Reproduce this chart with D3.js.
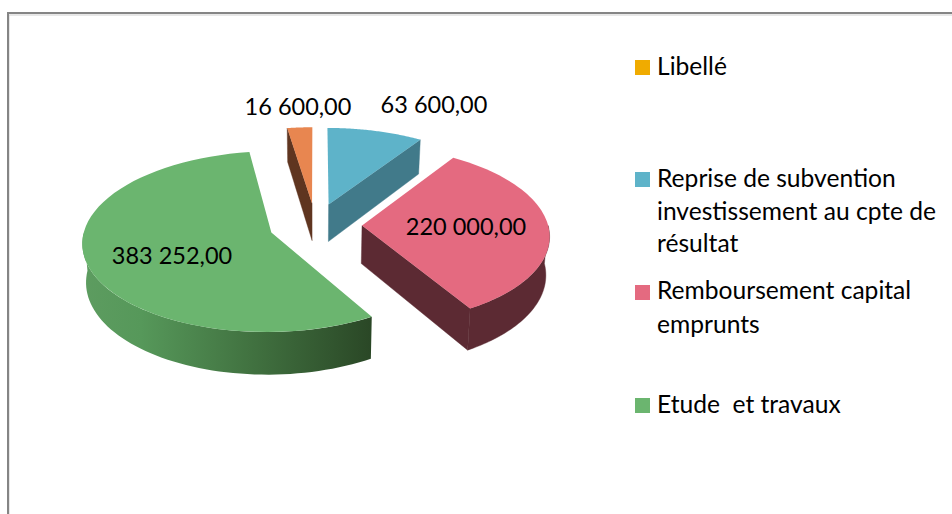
<!DOCTYPE html>
<html><head><meta charset="utf-8">
<script src="https://cdnjs.cloudflare.com/ajax/libs/d3/7.8.5/d3.min.js"></script>
<style>html,body{margin:0;padding:0;background:#fff}svg{display:block}text{font-family:Lato,"Open Sans",sans-serif;fill:#000}</style>
</head><body><div id="chart"></div>
<script>
const categories = ["Libellé","Reprise de subvention investissement au cpte de résultat","Remboursement capital emprunts","Etude  et travaux",""];
const values = [0,63600,220000,383252,16600];
const valueLabels = ["","63 600,00","220 000,00","383 252,00","16 600,00"];
const legendLines = [["Libellé"],["Reprise de subvention","investissement au cpte de","résultat"],["Remboursement capital","emprunts"],["Etude  et travaux"]];
const topColors = ["#f0ab00","#5eb3c9","#e46a80","#6bb56f","#e88650"];
const wallColors = ["#8a6200","#417a8a","#5c2a33","#3a6a3c","#5f3520"];
const labelAnchors = [null,[434,113],[466,235],[172,264],[298,115]];

const W=952,H=514;
const svg=d3.select("#chart").append("svg").attr("width",W).attr("height",H).style("background","#fff");

// frame
svg.append("rect").attr("x",9).attr("y",15).attr("width",W+20).attr("height",H+20)
  .attr("fill","#fff").attr("stroke","#d0d0d0").attr("stroke-width",1);
svg.append("rect").attr("x",8).attr("y",13).attr("width",W+20).attr("height",H+20)
  .attr("fill","none").attr("stroke","#858585").attr("stroke-width",2);

// perspective projection of the exploded disc
const proj={cx:315.5,cy:225,a:186,b:88,p:0.1,e:0.25,d:38,shrink:0.984};
const project=(X,Y,bottom)=>{
  const w=1+proj.p*Y;
  let u=proj.a*X/w, v=-proj.b*Y/w;
  if(bottom){u*=proj.shrink; v+=proj.d/w;}
  return [proj.cx+u,proj.cy+v];
};
const pie=d3.pie().sort(null).startAngle(0).endAngle(2*Math.PI);
const arcs=pie(values);
const line=d3.line();
const defs=svg.append("defs");
const grad=defs.append("linearGradient").attr("id","frontGreen").attr("gradientUnits","userSpaceOnUse")
  .attr("x1",83).attr("x2",372).attr("y1",0).attr("y2",0);
[[0,"#5d9c60"],[0.2,"#56985a"],[0.6,"#40703f"],[1,"#2a4726"]].forEach(s=>grad.append("stop").attr("offset",s[0]).attr("stop-color",s[1]));

const pt=(a,ang,r,bottom)=>{
  const m=(a.startAngle+a.endAngle)/2;
  const X=proj.e*Math.sin(m)+r*Math.sin(ang), Y=proj.e*Math.cos(m)+r*Math.cos(ang);
  return project(X,Y,bottom);
};
const samples=(s,e)=>d3.range(0,61).map(i=>s+(e-s)*i/60);

// painter's order: back to front
const order=[4,1,2,3];
const g=svg.append("g");
order.forEach(i=>{
  const a=arcs[i];
  // visible radial walls
  const wall=(ang)=>{
    const pts=[pt(a,0,0,false),pt(a,ang,1,false),pt(a,ang,1,true),pt(a,0,0,true)];
    g.append("path").attr("d",line(pts)+"Z").attr("fill",wallColors[i]).attr("stroke",wallColors[i]).attr("stroke-width",0.4);
  };
  if(Math.cos(a.startAngle-Math.PI/2)<-0.01) wall(a.startAngle);
  if(Math.cos(a.endAngle+Math.PI/2)<-0.01) wall(a.endAngle);
  // outer front wall
  const s=Math.max(a.startAngle,Math.PI/2), e=Math.min(a.endAngle,3*Math.PI/2);
  if(e>s){
    const an=samples(s,e);
    const pts=an.map(t=>pt(a,t,1,false)).concat(an.slice().reverse().map(t=>pt(a,t,1,true)));
    const f=i===3?"url(#frontGreen)":wallColors[i];
    g.append("path").attr("d",line(pts)+"Z").attr("fill",f).attr("stroke",i===3?"none":f).attr("stroke-width",0.4);
  }
  // top face
  const top=[pt(a,0,0,false)].concat(samples(a.startAngle,a.endAngle).map(t=>pt(a,t,1,false)));
  g.append("path").attr("d",line(top)+"Z").attr("fill",topColors[i]);
});

// value labels
valueLabels.forEach((t,i)=>{
  if(!t) return;
  svg.append("text").attr("x",labelAnchors[i][0]).attr("y",labelAnchors[i][1]).attr("text-anchor","middle")
    .attr("font-size",23.5).text(t);
});

// legend
const legendY=[60,172,285,398];
const lineY=[[75],[187,220,252],[299,333],[413]];
legendLines.forEach((ls,i)=>{
  svg.append("rect").attr("x",635).attr("y",legendY[i]).attr("width",15).attr("height",15).attr("fill",topColors[i]);
  ls.forEach((l,j)=>svg.append("text").attr("x",657).attr("y",lineY[i][j]).attr("font-size",24.6).style("white-space","pre").text(l));
});
</script></body></html>
